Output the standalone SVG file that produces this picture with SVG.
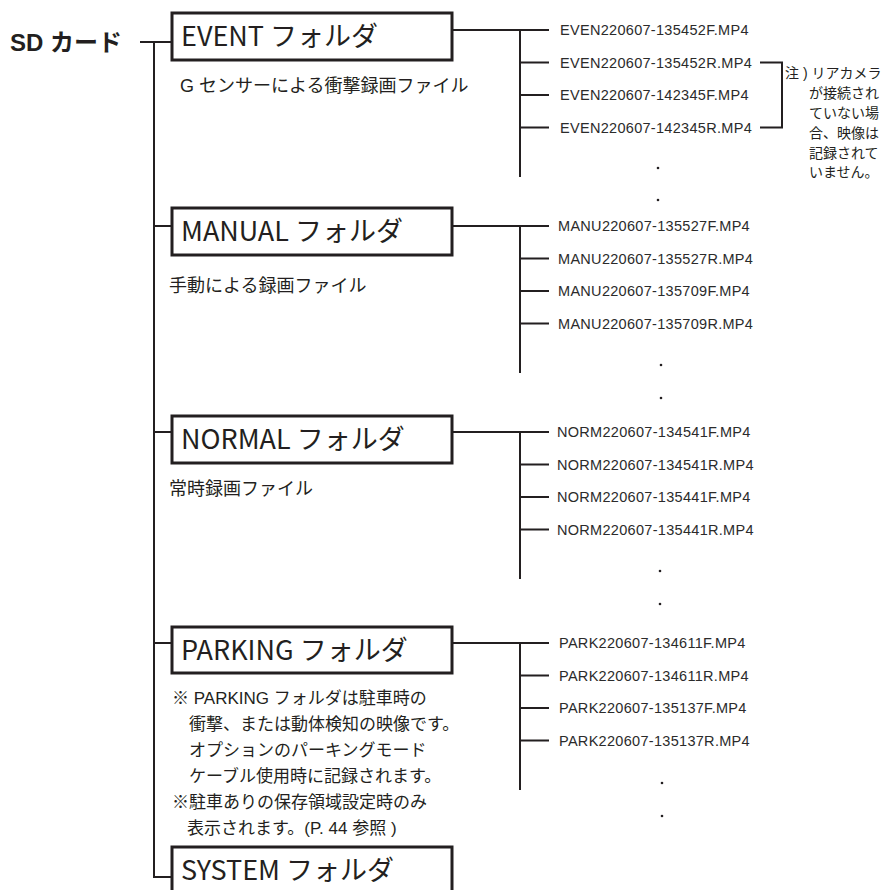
<svg xmlns="http://www.w3.org/2000/svg" width="888" height="890" viewBox="0 0 888 890">
<style>
.ln{stroke:#231f20;stroke-width:2;fill:none}
.box{fill:#fff;stroke:#231f20;stroke-width:3}
.title{font-family:"Noto Sans CJK JP","Liberation Sans",sans-serif;font-size:27px;fill:#231f20}
.desc{font-family:"Liberation Sans","Noto Sans CJK JP",sans-serif;font-size:18px;fill:#231f20}
.file{font-family:"Liberation Sans","Noto Sans CJK JP",sans-serif;font-size:14.5px;letter-spacing:0.3px;fill:#2b2b2b}
.note{font-family:"Liberation Sans","Noto Sans CJK JP",sans-serif;font-size:14px;fill:#231f20}
.pn{font-family:"Liberation Sans","Noto Sans CJK JP",sans-serif;font-size:17px;fill:#231f20}
.dot{fill:#231f20}
</style>
<g id="connectors">
<path class="ln" d="M140 42H172M154 42V877H172"/>
<path class="ln" d="M154 226H172M154 432H172M154 643H172"/>
<path class="ln" d="M452 30H549M520 30V177M520 62.5H549M520 95H549M520 127.5H549"/>
<path class="ln" d="M452 226H549M520 226V373M520 258.5H549M520 291H549M520 323.5H549"/>
<path class="ln" d="M452 432H549M520 432V579M520 464.5H549M520 497H549M520 529.5H549"/>
<path class="ln" d="M452 643H549M520 643V790M520 675.5H549M520 708H549M520 740.5H549"/>
<path class="ln" d="M760 62.5H782V127.5H760"/>
</g>
<g id="sd">
<text x="10" y="51" style="font-family:'Liberation Sans','Noto Sans CJK JP',sans-serif;font-size:24px;font-weight:bold;fill:#231f20">SD カード</text>
</g>
<g id="event">
<rect class="box" x="172" y="13" width="280" height="47"/>
<text class="title" x="181" y="46">EVENT フォルダ</text>
<text class="desc" x="180" y="92">G センサーによる衝撃録画ファイル</text>
</g>
<g id="event-files">
<text class="file" x="560" y="35">EVEN220607-135452F.MP4</text>
<text class="file" x="560" y="67.5">EVEN220607-135452R.MP4</text>
<text class="file" x="560" y="100">EVEN220607-142345F.MP4</text>
<text class="file" x="560" y="132.5">EVEN220607-142345R.MP4</text>
<circle class="dot" cx="658" cy="168" r="1.3"/>
<circle class="dot" cx="658" cy="200" r="1.3"/>
</g>
<g id="note">
<text class="note" x="785" y="78">注 ) リアカメラ</text>
<text class="note" x="809" y="98">が接続され</text>
<text class="note" x="809" y="118">ていない場</text>
<text class="note" x="809" y="138">合、映像は</text>
<text class="note" x="809" y="158">記録されて</text>
<text class="note" x="809" y="177">いません。</text>
</g>
<g id="manual">
<rect class="box" x="172" y="208" width="280" height="47"/>
<text class="title" x="181" y="241">MANUAL フォルダ</text>
<text class="desc" x="169" y="292">手動による録画ファイル</text>
</g>
<g id="manual-files">
<text class="file" x="558" y="231">MANU220607-135527F.MP4</text>
<text class="file" x="558" y="263.5">MANU220607-135527R.MP4</text>
<text class="file" x="558" y="296">MANU220607-135709F.MP4</text>
<text class="file" x="558" y="328.5">MANU220607-135709R.MP4</text>
<circle class="dot" cx="661" cy="365" r="1.3"/>
<circle class="dot" cx="661" cy="398" r="1.3"/>
</g>
<g id="normal">
<rect class="box" x="172" y="416" width="280" height="47"/>
<text class="title" x="181" y="449">NORMAL フォルダ</text>
<text class="desc" x="169" y="495">常時録画ファイル</text>
</g>
<g id="normal-files">
<text class="file" x="557" y="437">NORM220607-134541F.MP4</text>
<text class="file" x="557" y="469.5">NORM220607-134541R.MP4</text>
<text class="file" x="557" y="502">NORM220607-135441F.MP4</text>
<text class="file" x="557" y="534.5">NORM220607-135441R.MP4</text>
<circle class="dot" cx="660" cy="571" r="1.3"/>
<circle class="dot" cx="660" cy="604" r="1.3"/>
</g>
<g id="parking">
<rect class="box" x="172" y="627" width="280" height="46"/>
<text class="title" x="181" y="660">PARKING フォルダ</text>
<text class="pn" x="172" y="703.5">※ PARKING フォルダは駐車時の</text>
<text class="pn" x="189" y="729.5">衝撃、または動体検知の映像です。</text>
<text class="pn" x="189" y="755.5">オプションのパーキングモード</text>
<text class="pn" x="189" y="781.5">ケーブル使用時に記録されます。</text>
<text class="pn" x="172" y="807.5">※駐車ありの保存領域設定時のみ</text>
<text class="pn" x="187" y="833.5">表示されます。(P. 44 参照 )</text>
</g>
<g id="parking-files">
<text class="file" x="559" y="648">PARK220607-134611F.MP4</text>
<text class="file" x="559" y="680.5">PARK220607-134611R.MP4</text>
<text class="file" x="559" y="713">PARK220607-135137F.MP4</text>
<text class="file" x="559" y="745.5">PARK220607-135137R.MP4</text>
<circle class="dot" cx="662" cy="783" r="1.3"/>
<circle class="dot" cx="662" cy="816" r="1.3"/>
</g>
<g id="system">
<rect class="box" x="172" y="847" width="280" height="60"/>
<text class="title" x="181" y="880">SYSTEM フォルダ</text>
</g>
</svg>
